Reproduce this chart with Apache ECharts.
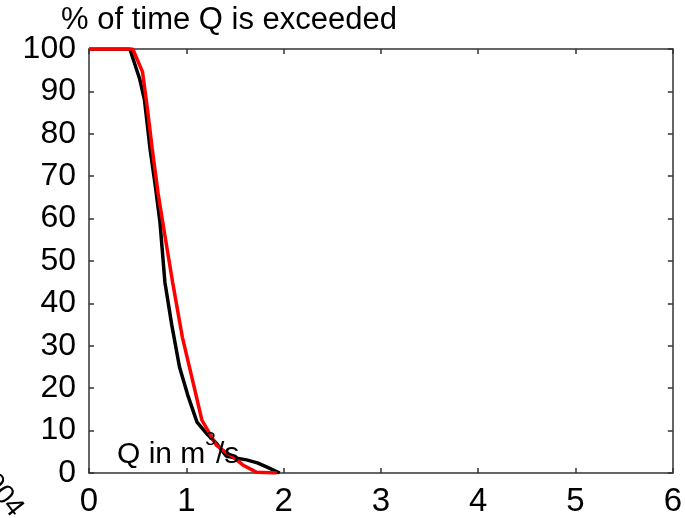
<!DOCTYPE html>
<html><head><meta charset="utf-8">
<script src="https://cdn.jsdelivr.net/npm/echarts@6/dist/echarts.min.js"></script>
<style>html,body{margin:0;padding:0;background:#fff}#c{width:685px;height:518px}</style>
</head><body><div id="c"></div>
<script>
const xTicks = [0,1,2,3,4,5,6];
const yTicks = [0,10,20,30,40,50,60,70,80,90,100];
const blackQ = [0, 0.42, 0.52, 0.57, 0.63, 0.68, 0.73, 0.78, 0.85, 0.93, 1.02, 1.11, 1.22, 1.31, 1.41, 1.52, 1.62, 1.73, 1.83, 1.96];
const blackP = [100, 100, 93, 88, 76, 68, 59, 45, 35, 25, 18, 12, 9, 7, 4, 3.5, 3.1, 2.4, 1.4, 0];
const redQ = [0, 0.45, 0.55, 0.60, 0.65, 0.71, 0.78, 0.86, 0.96, 1.07, 1.16, 1.31, 1.40, 1.48, 1.58, 1.72, 1.93];
const redP = [100, 100, 94.6, 86, 76.4, 66, 56, 44.9, 32, 21.3, 12.5, 6.5, 5, 3.8, 1.9, 0.2, 0];
const yTitle = '% of time Q is exceeded';
const xTitle = 'Q in m';
const stray = '2004';

const font = "'Liberation Sans', Arial, sans-serif";
const chart = echarts.init(document.getElementById('c'));
const axLine = {show:true, onZero:false, lineStyle:{color:'#333', width:1.5}};
const tick = {show:true, inside:true, length:5, lineStyle:{color:'#333', width:1.5}};
chart.setOption({
  animation:false,
  backgroundColor:'#fff',
  grid:{left:89, right:11, top:49, bottom:45, containLabel:false},
  xAxis:[
    {type:'value', min:xTicks[0], max:xTicks[xTicks.length-1], interval:1, position:'bottom',
     axisLine:axLine, axisTick:tick, splitLine:{show:false},
     axisLabel:{color:'#000', fontSize:33, fontFamily:font, margin:12}},
    {type:'value', min:xTicks[0], max:xTicks[xTicks.length-1], interval:1, position:'top',
     axisLine:axLine, axisTick:tick, splitLine:{show:false}, axisLabel:{show:false}}
  ],
  yAxis:[
    {type:'value', min:yTicks[0], max:yTicks[yTicks.length-1], interval:10, position:'left',
     axisLine:axLine, axisTick:tick, splitLine:{show:false},
     axisLabel:{color:'#000', fontSize:32, fontFamily:font, margin:13}},
    {type:'value', min:yTicks[0], max:yTicks[yTicks.length-1], interval:10, position:'right',
     axisLine:axLine, axisTick:tick, splitLine:{show:false}, axisLabel:{show:false}}
  ],
  series:[
    {type:'line', data:blackQ.map((q,i)=>[q,blackP[i]]), showSymbol:false, symbol:'none',
     lineStyle:{color:'#000', width:3.5}, z:3},
    {type:'line', data:redQ.map((q,i)=>[q,redP[i]]), showSymbol:false, symbol:'none',
     lineStyle:{color:'#ff0000', width:3.5}, z:4}
  ],
  graphic:[
    {type:'text', left:61, top:5, z:10, style:{text:yTitle, fill:'#000', font:'31px '+font}},
    {type:'text', left:117, top:430, z:10, style:{
      text:'{a|'+xTitle+'}{s|3}{a|/s}', fill:'#000',
      rich:{a:{fontSize:30, fontFamily:font, fill:'#000', verticalAlign:'bottom'},
            s:{fontSize:19, fontFamily:font, fill:'#000', verticalAlign:'bottom', padding:[0,0,21,0]}}}},
    {type:'text', x:-10, y:456, rotation:-0.9, z:10, style:{text:stray, fill:'#000', font:'28px '+font}}
  ]
});
</script></body></html>
